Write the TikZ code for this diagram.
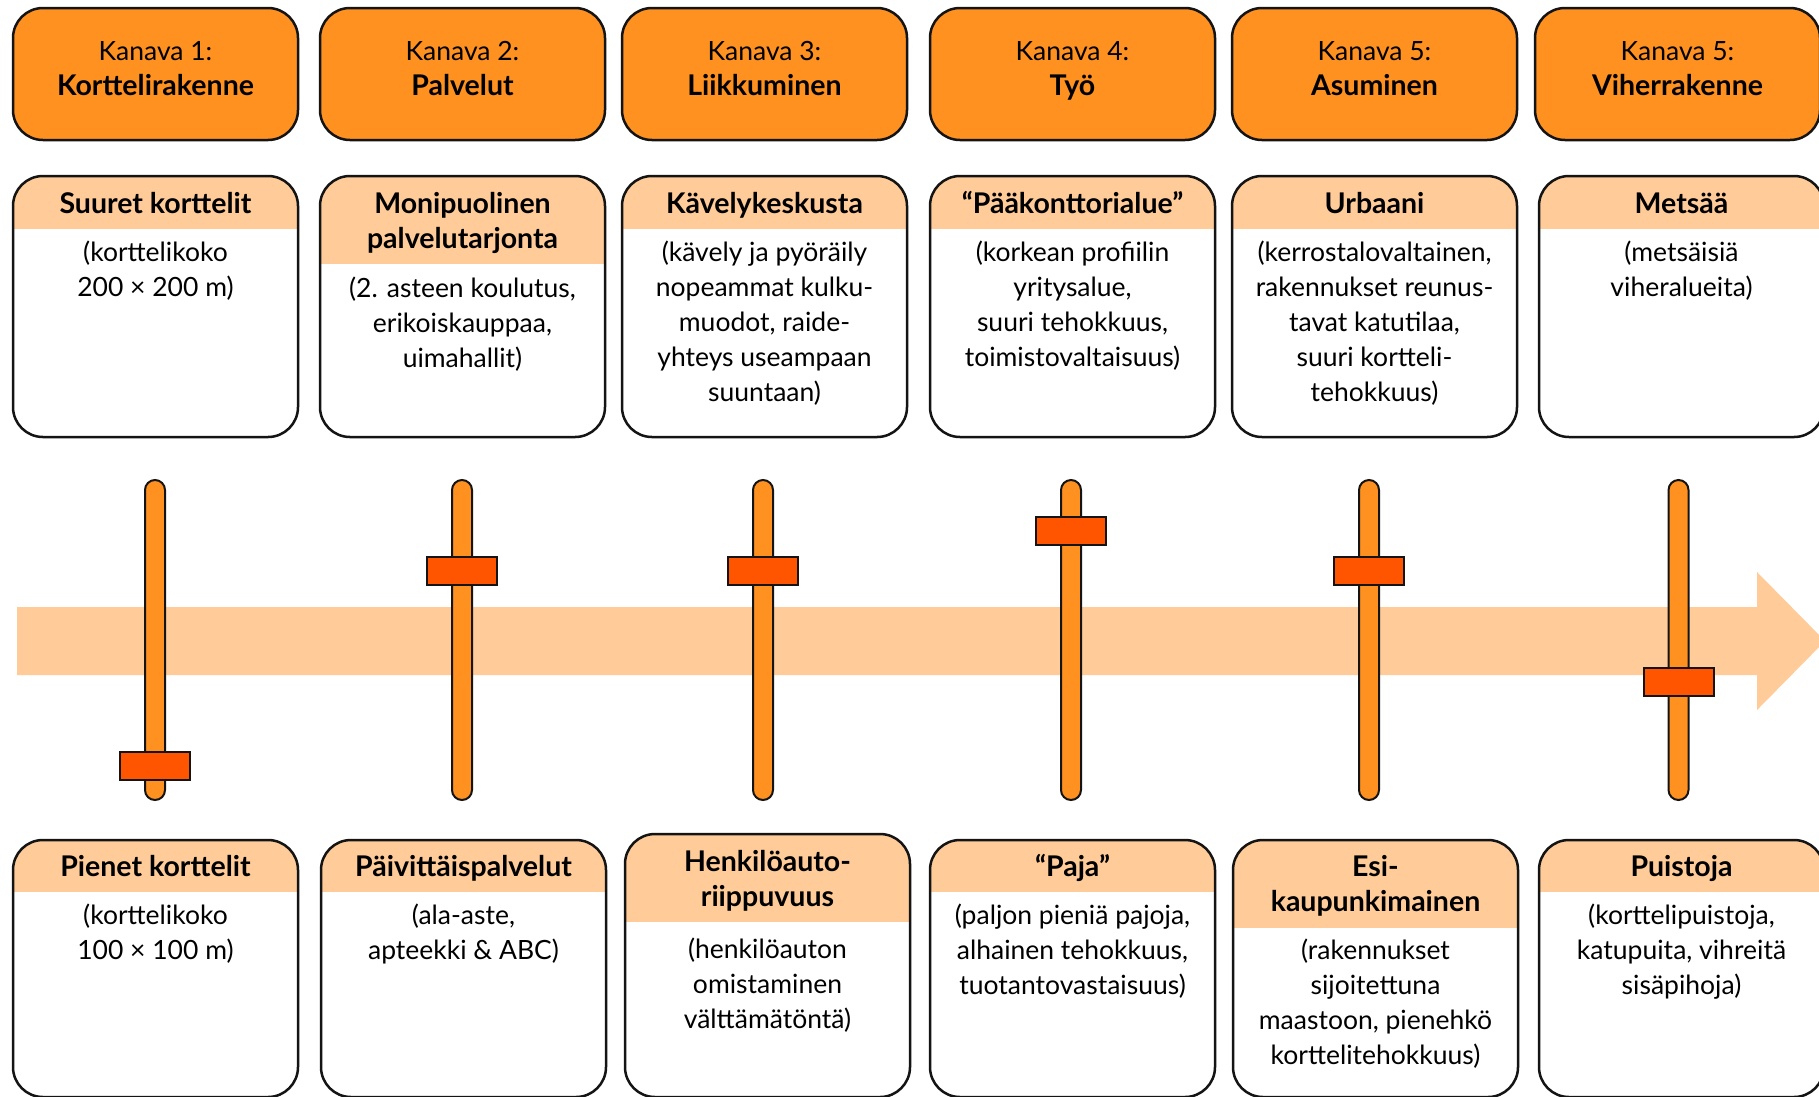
\documentclass[tikz,border=0pt]{standalone}
\usepackage{fontspec}
\setmainfont{Lato}
\definecolor{chan}{RGB}{255,145,32}
\definecolor{bandc}{RGB}{255,204,153}
\definecolor{knobc}{RGB}{255,85,0}
\definecolor{edgec}{RGB}{20,20,20}
\newcommand\lnstrut{\rule{0pt}{24pt}}
\newcommand\bigbold{\fontsize{28.5}{35}\selectfont\bfseries}
\tikzset{
  chanbox/.style={draw=edgec, line width=2.5pt, fill=chan, rounded corners=30pt,
    minimum width=285pt, minimum height=132pt, inner sep=0pt, outer sep=0pt},
  descbox/.style={draw=edgec, line width=2.5pt, fill=white, rounded corners=30pt,
    minimum width=285pt, inner sep=0pt, outer sep=0pt},
  band/.style={path picture={\fill[bandc, sharp corners] (path picture bounding box.north west)
    rectangle ([yshift=-#1pt]path picture bounding box.north east);}},
  txt/.style={font=\fontsize{26.5}{35}\selectfont, align=center, inner sep=0pt, anchor=north},
  ttl/.style={font=\bigbold, align=center, inner sep=0pt, anchor=north},
  bar/.style={draw=edgec, line width=2pt, fill=chan, rounded corners=10pt,
    minimum width=20pt, minimum height=320pt, inner sep=0pt},
  knob/.style={draw=edgec, line width=2pt, fill=knobc,
    minimum width=70pt, minimum height=28pt, inner sep=0pt},
}
\begin{document}
\begin{tikzpicture}[x=1pt,y=-1pt]
\useasboundingbox (0,0) rectangle (1819,1096);
\fill[white] (0,0) rectangle (1819,1096);

% progress arrow
\fill[bandc] (17,607) -- (1757,607) -- (1757,572) -- (1825,641) -- (1757,710) -- (1757,675) -- (17,675) -- cycle;

% channel boxes
\foreach \i/\cx/\num/\name in {1/155.5/1/Korttelirakenne, 2/462.5/2/Palvelut, 3/764.5/3/Liikkuminen,
  4/1072.5/4/Työ, 5/1374.5/5/Asuminen, 6/1677.5/5/Viherrakenne}{
  \node[chanbox] (k\i) at (\cx,74) {};
  \node[txt] (kt\i) at (\cx,36) {\lnstrut Kanava \num:\\{\bigbold\name}};
}

% upper description boxes
\node[descbox, band=53, minimum height=261pt] (u1) at (155.5,306.5) {};
\node[descbox, band=88, minimum height=261pt] (u2) at (462.5,306.5) {};
\node[descbox, band=53, minimum height=261pt] (u3) at (764.5,306.5) {};
\node[descbox, band=53, minimum height=261pt] (u4) at (1072.5,306.5) {};
\node[descbox, band=53, minimum height=261pt] (u5) at (1374.5,306.5) {};
\node[descbox, band=53, minimum height=261pt] (u6) at (1681.5,306.5) {};

\node[ttl] (ut1) at (155.5,189) {\lnstrut Suuret korttelit};
\node[ttl] (ut2) at (462.5,189) {\lnstrut Monipuolinen\\palvelutarjonta};
\node[ttl] (ut3) at (764.5,189) {\lnstrut Kävelykeskusta};
\node[ttl] (ut4) at (1072.5,189) {\lnstrut “Pääkonttorialue”};
\node[ttl] (ut5) at (1374.5,189) {\lnstrut Urbaani};
\node[ttl] (ut6) at (1681.5,189) {\lnstrut Metsää};

\node[txt] (ub1) at (155.5,237) {\lnstrut(korttelikoko\\200 × 200 m)};
\node[txt] (ub2) at (462.5,273) {\lnstrut(2. asteen koulutus,\\erikoiskauppaa,\\uimahallit)};
\node[txt] (ub3) at (764.5,237) {\lnstrut(kävely ja pyöräily\\nopeammat kulku-\\muodot, raide-\\yhteys useampaan\\suuntaan)};
\node[txt] (ub4) at (1072.5,237) {\lnstrut(korkean profiilin\\yritysalue,\\suuri tehokkuus,\\toimistovaltaisuus)};
\node[txt] (ub5) at (1374.5,237) {\lnstrut(kerrostalovaltainen,\\rakennukset reunus-\\tavat katutilaa,\\suuri kortteli-\\tehokkuus)};
\node[txt] (ub6) at (1681.5,237) {\lnstrut(metsäisiä\\viheralueita)};

% sliders
\foreach \i/\bx/\ky in {1/155/766, 2/462/571, 3/763/571, 4/1071/531, 5/1369/571, 6/1678.5/682}{
  \node[bar] (s\i) at (\bx,640) {};
  \node[knob] (n\i) at (\bx,\ky) {};
}

% lower description boxes
\node[descbox, band=52, minimum height=257pt] (d1) at (155.5,968.5) {};
\node[descbox, band=52, minimum height=257pt] (d2) at (463.5,968.5) {};
\node[descbox, band=88, minimum height=263pt] (d3) at (767.5,965.5) {};
\node[descbox, band=52, minimum height=257pt] (d4) at (1072.5,968.5) {};
\node[descbox, band=88, minimum height=257pt] (d5) at (1375.5,968.5) {};
\node[descbox, band=52, minimum height=257pt] (d6) at (1681.5,968.5) {};

\node[ttl] (dt1) at (155.5,852) {\lnstrut Pienet korttelit};
\node[ttl] (dt2) at (463.5,852) {\lnstrut Päivittäispalvelut};
\node[ttl] (dt3) at (767.5,847) {\lnstrut Henkilöauto-\\riippuvuus};
\node[ttl] (dt4) at (1072.5,852) {\lnstrut “Paja”};
\node[ttl] (dt5) at (1375.5,852) {\lnstrut Esi-\\kaupunkimainen};
\node[ttl] (dt6) at (1681.5,852) {\lnstrut Puistoja};

\node[txt] (db1) at (155.5,900) {\lnstrut(korttelikoko\\100 × 100 m)};
\node[txt] (db2) at (463.5,900) {\lnstrut(ala-aste,\\apteekki \& ABC)};
\node[txt] (db3) at (767.5,934) {\lnstrut(henkilöauton\\omistaminen\\välttämätöntä)};
\node[txt] (db4) at (1072.5,900) {\lnstrut(paljon pieniä pajoja,\\alhainen tehokkuus,\\tuotantovastaisuus)};
\node[txt] (db5) at (1375.5,935) {\lnstrut(rakennukset\\sijoitettuna\\maastoon, pienehkö\\korttelitehokkuus)};
\node[txt] (db6) at (1681.5,900) {\lnstrut(korttelipuistoja,\\katupuita, vihreitä\\sisäpihoja)};
\end{tikzpicture}
\end{document}
